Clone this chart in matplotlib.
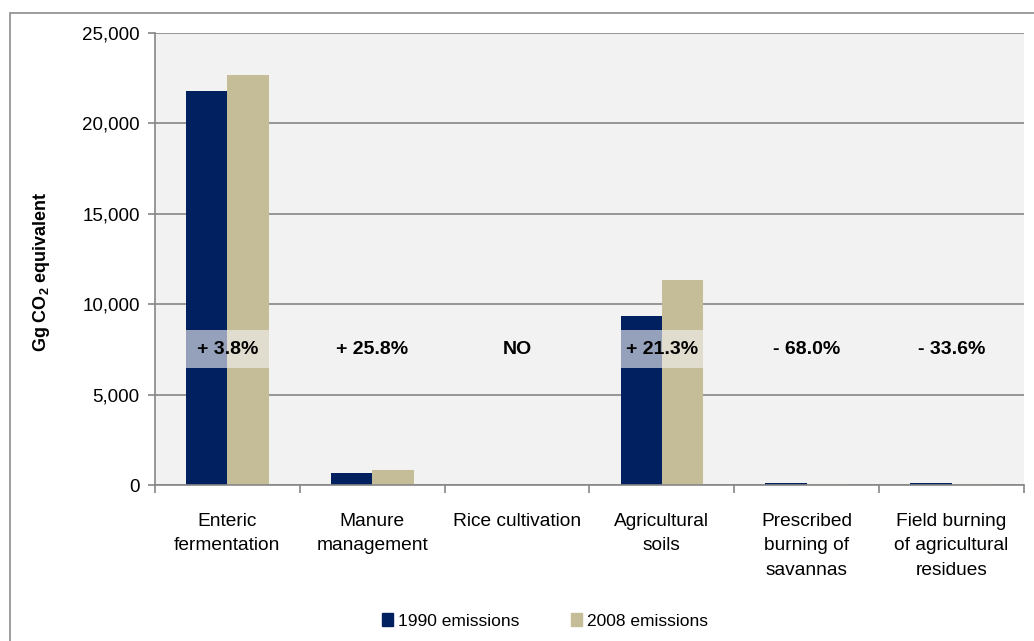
import matplotlib
matplotlib.use("Agg")
import matplotlib.pyplot as plt
from matplotlib.patches import Rectangle, Patch
import numpy as np

plt.rcParams['font.family'] = ['Liberation Sans', 'DejaVu Sans']
plt.rcParams['mathtext.fontset'] = 'custom'
plt.rcParams['mathtext.rm'] = 'Liberation Sans'
plt.rcParams['mathtext.bf'] = 'Liberation Sans:bold'

categories = ["Enteric\nfermentation", "Manure\nmanagement", "Rice cultivation",
              "Agricultural\nsoils", "Prescribed\nburning of\nsavannas",
              "Field burning\nof agricultural\nresidues"]
emissions_1990 = [21800, 660, 0, 9350, 120, 110]
emissions_2008 = [22650, 830, 0, 11340, 45, 73]
changes = ["+ 3.8%", "+ 25.8%", "NO", "+ 21.3%", "- 68.0%", "- 33.6%"]
series_labels = ["1990 emissions", "2008 emissions"]
yticks = [0, 5000, 10000, 15000, 20000, 25000]

navy = "#002060"
tan = "#C4BD97"
grid_c = "#868686"

fig = plt.figure(figsize=(10.34, 6.41), dpi=100)
fig.patch.set_facecolor("white")
# outer chart border
fig.add_artist(Rectangle((10/1034, -0.01), 1.0, (641-13)/641 + 0.01,
                         transform=fig.transFigure, fill=False,
                         edgecolor="#8C8C8C", linewidth=1.2))

ax = fig.add_axes([155/1034, (641-485)/641, (1024-155)/1034, (485-33)/641])
ax.set_facecolor("#F2F2F2")

x = np.arange(len(categories))
w = 0.285
ax.bar(x - w/2, emissions_1990, width=w, color=navy, zorder=3, label=series_labels[0])
ax.bar(x + w/2, emissions_2008, width=w, color=tan, zorder=3, label=series_labels[1])

ax.set_xlim(-0.5, len(categories) - 0.5)
ax.set_ylim(0, 25000)
ax.set_yticks(yticks)
ax.set_yticklabels([f"{v:,}" for v in yticks], fontsize=13.5)
ax.yaxis.grid(True, color=grid_c, linewidth=1.2, zorder=1)
ax.set_axisbelow(True)

ax.set_xticks(x)
ax.set_xticklabels(categories, fontsize=13.8, linespacing=1.58)
ax.tick_params(axis='x', length=0, pad=20)
ax.set_xticks(np.arange(-0.5, len(categories) + 0.5, 1), minor=True)
ax.tick_params(axis='x', which='minor', length=6, color=grid_c, width=1.2)
ax.tick_params(axis='y', length=5, color=grid_c, width=1.2, pad=6)

for s in ['top', 'right']:
    ax.spines[s].set_visible(False)
for s in ['left', 'bottom']:
    ax.spines[s].set_color(grid_c)
    ax.spines[s].set_linewidth(1.2)
    ax.spines[s].set_zorder(6)

# translucent label band
ax.axhspan(6470, 8570, color="#F2F2F2", alpha=0.62, zorder=4, linewidth=0)
for xi, t in zip(x, changes):
    ax.text(xi, 7520, t, ha='center', va='center', fontsize=14,
            fontweight='bold', zorder=5)

ax.set_ylabel(r"Gg CO$_{\mathbf{2}}$ equivalent", fontsize=13, fontweight='bold')
ax.yaxis.set_label_coords(-0.118, 0.472)

handles = [Patch(color=navy), Patch(color=tan)]
fig.legend(handles, series_labels, loc='center', bbox_to_anchor=(545/1034, (641-621)/641),
           ncol=2, frameon=False, fontsize=12.5, handlelength=0.6, handleheight=0.7,
           handletextpad=0.3, columnspacing=3.0)

fig.savefig("out.png", dpi=100)
